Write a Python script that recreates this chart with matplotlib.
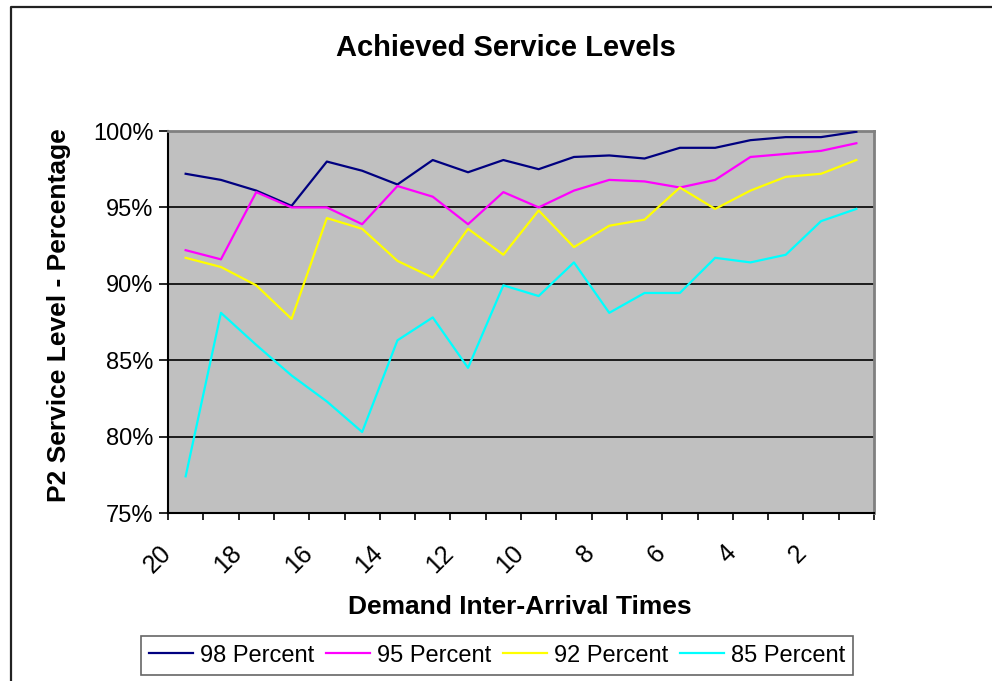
"""Achieved service levels vs demand inter-arrival time, redrawn in the
old Excel chart look (grey plot area, black gridlines, boxed legend)."""
import matplotlib
matplotlib.use("Agg")
import matplotlib.pyplot as plt
from matplotlib.lines import Line2D
from matplotlib.ticker import FixedLocator, PercentFormatter
from matplotlib.transforms import ScaledTranslation

plt.rcParams["font.family"] = ["Liberation Sans", "DejaVu Sans"]

# inter-arrival time categories, left to right (20 down to 1)
times = list(range(20, 0, -1))
tick_labels = [str(t) if t % 2 == 0 else "" for t in times]

# P2 service level achieved (%) for each target level
p98 = [97.2, 96.8, 96.1, 95.1, 98.0, 97.4, 96.5, 98.1, 97.3, 98.1,
       97.5, 98.3, 98.4, 98.2, 98.9, 98.9, 99.4, 99.6, 99.6, 99.95]
p95 = [92.2, 91.6, 96.0, 95.0, 95.0, 93.9, 96.4, 95.7, 93.9, 96.0,
       95.0, 96.1, 96.8, 96.7, 96.3, 96.8, 98.3, 98.5, 98.7, 99.2]
p92 = [91.7, 91.1, 89.9, 87.7, 94.3, 93.6, 91.5, 90.4, 93.6, 91.9,
       94.8, 92.4, 93.8, 94.2, 96.3, 94.9, 96.1, 97.0, 97.2, 98.1]
p85 = [77.4, 88.1, 86.0, 84.0, 82.3, 80.3, 86.3, 87.8, 84.5, 89.9,
       89.2, 91.4, 88.1, 89.4, 89.4, 91.7, 91.4, 91.9, 94.1, 94.9]

series = [("98 Percent", p98, "#000080"),
          ("95 Percent", p95, "#FF00FF"),
          ("92 Percent", p92, "#FFFF00"),
          ("85 Percent", p85, "#00FFFF")]

W, H = 992, 681
fig = plt.figure(figsize=(W / 100, H / 100), dpi=100)
ax = fig.add_axes([168 / W, 1 - 513 / H, 706 / W, 382 / H])
ax.set_facecolor("#C0C0C0")

x = range(len(times))
for name, vals, color in series:
    ax.plot(x, vals, color=color, lw=1.6, label=name, zorder=3)

ax.set_xlim(-0.5, len(times) - 0.5)
ax.set_ylim(75, 100)
ax.yaxis.set_major_locator(FixedLocator([75, 80, 85, 90, 95, 100]))
ax.yaxis.set_major_formatter(PercentFormatter(decimals=0))
ax.grid(axis="y", color="black", lw=1.2, zorder=1)

# tick marks sit on category boundaries, labels on category centres
ax.xaxis.set_major_locator(FixedLocator([i - 0.5 for i in range(len(times) + 1)]))
ax.xaxis.set_major_formatter(plt.NullFormatter())
ax.set_xticks(list(x), tick_labels, minor=True)
ax.tick_params(axis="x", which="major", length=5, width=1.2, color="black")
ax.tick_params(axis="x", which="minor", length=0, pad=20, labelsize=18,
               labelrotation=45)
for lab in ax.get_xticklabels(minor=True):
    lab.set_ha("right")
    lab.set_va("top")
    lab.set_transform(lab.get_transform()
                      + ScaledTranslation(-0.10, 0, fig.dpi_scale_trans))
ax.tick_params(axis="y", length=6.5, width=1.2, labelsize=17, pad=4)

for side in ("left", "bottom"):
    ax.spines[side].set_color("black")
    ax.spines[side].set_linewidth(1.5)
for side in ("top", "right"):
    ax.spines[side].set_color("#808080")
    ax.spines[side].set_linewidth(2)

fig.text(506 / W, 1 - 48 / H, "Achieved Service Levels", ha="center",
         va="center", fontsize=21, fontweight="bold")
fig.text(520 / W, 1 - 607 / H, "Demand Inter-Arrival Times", ha="center",
         va="center", fontsize=19, fontweight="bold")
fig.text(59 / W, 1 - 315 / H, "P2 Service Level - Percentage", ha="center",
         va="center", rotation=90, fontsize=19, fontweight="bold")

leg = fig.legend(loc="center", bbox_to_anchor=(497 / W, 1 - 655.5 / H),
                 ncol=4, fontsize=17, frameon=True, fancybox=False,
                 handlelength=1.86, handletextpad=0.3, columnspacing=0.5,
                 borderpad=0.35, borderaxespad=0)
leg.get_frame().set_edgecolor("#404040")
leg.get_frame().set_linewidth(1.2)

# chart-area frame: only the left and top edges are inside the picture
fig.add_artist(Line2D([11 / W, 11 / W, 1], [0, 1 - 7 / H, 1 - 7 / H],
                      transform=fig.transFigure, color="#222222", lw=1.6))

fig.savefig("out.png", dpi=100, facecolor="white")
